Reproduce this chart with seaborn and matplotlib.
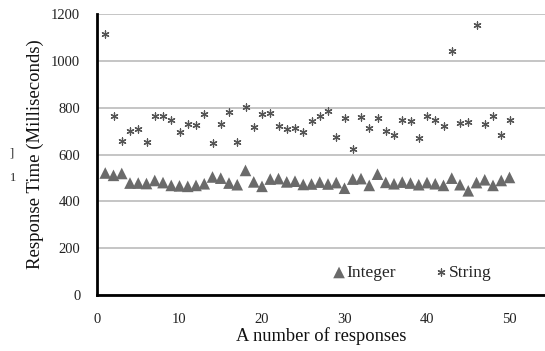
import numpy as np
import pandas as pd
import matplotlib
matplotlib.use("Agg")
import matplotlib.pyplot as plt
import seaborn as sns

responses = list(range(1, 51))
integer_ms = [521, 511, 519, 478, 478, 476, 489, 480, 468, 466,
              464, 468, 475, 504, 499, 478, 471, 532, 483, 464,
              495, 497, 483, 486, 472, 474, 482, 474, 480, 456,
              495, 497, 468, 516, 481, 475, 482, 478, 471, 480,
              475, 468, 499, 471, 445, 480, 492, 468, 489, 502]
string_ms = [1115, 763, 656, 702, 710, 652, 766, 763, 746, 696,
             732, 727, 774, 649, 730, 780, 654, 803, 717, 772,
             777, 723, 710, 713, 695, 745, 763, 784, 675, 755,
             625, 759, 715, 757, 700, 682, 749, 742, 670, 763,
             749, 720, 1044, 735, 739, 1152, 730, 766, 685, 749]
series_names = ["Integer", "String"]
x_ticks = [0, 10, 20, 30, 40, 50]
y_ticks = [0, 200, 400, 600, 800, 1000, 1200]

df = pd.DataFrame({
    "x": responses * 2,
    "y": integer_ms + string_ms,
    "series": [series_names[0]] * len(responses) + [series_names[1]] * len(responses),
})

sns.set_theme(style="white")
plt.rcParams["font.family"] = ["Liberation Serif", "DejaVu Serif"]

fig = plt.figure(figsize=(5.45, 3.51), dpi=100)
ax = fig.add_axes([97 / 545, 56 / 351, 448 / 545, 281 / 351])

ax.yaxis.grid(True, color="#c0c0c0", linewidth=1.3, zorder=0)
ax.set_axisbelow(True)

sns.scatterplot(data=df[df.series == "Integer"], x="x", y="y", ax=ax,
                marker="^", s=70, color="#6a6a6a", edgecolor="none",
                label="Integer", zorder=3)
sns.scatterplot(data=df[df.series == "String"], x="x", y="y", ax=ax,
                marker=(6, 2, 0), s=26, color="#555555", linewidth=0.9,
                label="String", zorder=3)

ax.set_xlim(0, 448 / 8.25)
ax.set_ylim(0, 1200)
ax.set_xticks(x_ticks)
ax.set_yticks(y_ticks)
ax.tick_params(axis="x", direction="out", length=4, width=1.5, colors="black",
               labelsize=10.5, pad=9)
ax.tick_params(axis="y", length=0, labelsize=10.5, pad=12)
for lab in ax.get_xticklabels() + ax.get_yticklabels():
    lab.set_color("#222222")

for side in ["top", "right"]:
    ax.spines[side].set_visible(False)
for side in ["left", "bottom"]:
    ax.spines[side].set_color("black")
    ax.spines[side].set_linewidth(2)

ax.set_xlabel("A number of responses", fontsize=13.3, labelpad=1, color="#111111")
ax.set_ylabel("Response Time (Milliseconds)", fontsize=13.5, labelpad=5, color="#111111")

leg = ax.legend(loc="lower left", bbox_to_anchor=(229 / 448, 0.025), ncol=2,
                frameon=False, fontsize=12.5, handletextpad=0.05, handlelength=0.7,
                columnspacing=2.3, borderaxespad=0, markerscale=1.0)

fig.text(10 / 545, 1 - 153 / 351, "]", fontsize=9, va="center")
fig.text(10 / 545, 1 - 178 / 351, "1", fontsize=9, va="center")

fig.savefig("out.png", dpi=100)
